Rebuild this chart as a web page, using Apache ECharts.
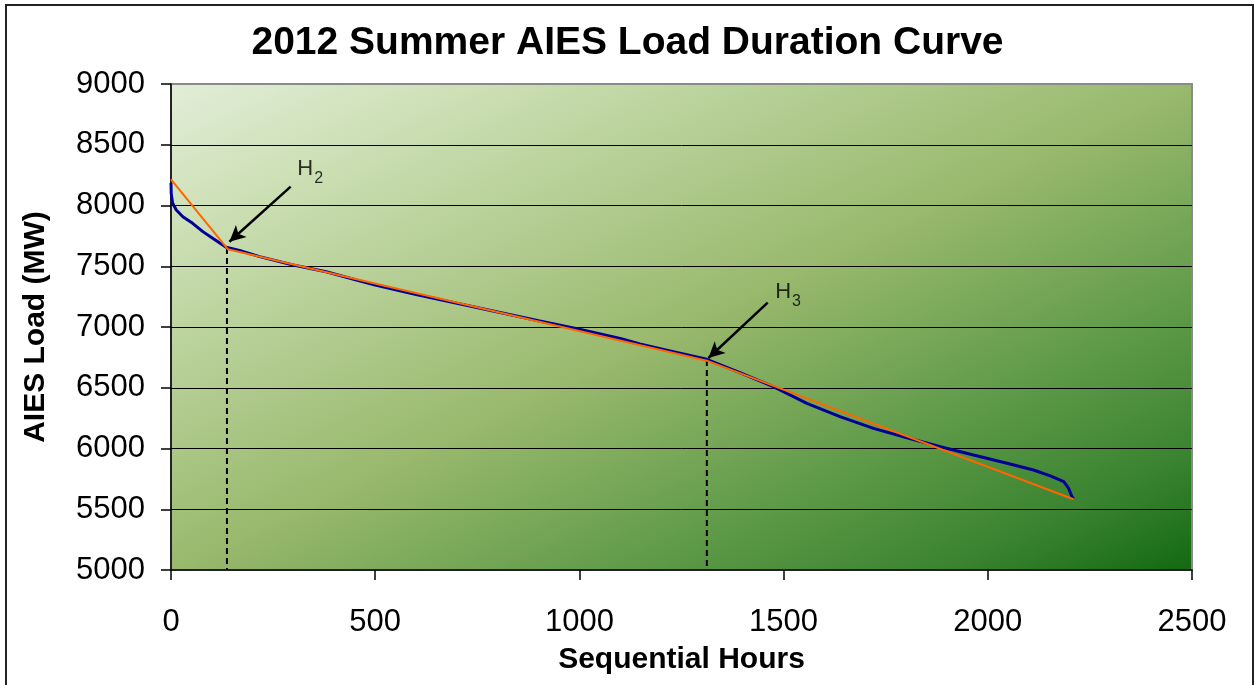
<!DOCTYPE html>
<html>
<head>
<meta charset="utf-8">
<script src="https://cdn.jsdelivr.net/npm/echarts@6/dist/echarts.min.js"></script>
<style>html,body{margin:0;padding:0;background:#fff}#c{width:1255px;height:685px}</style>
</head>
<body>
<div id="c"></div>
<script>
// Load duration curve (blue)
const loadHours = [0, 0.5, 4, 13, 29, 53, 78, 102, 135, 168, 217, 299, 380, 454, 500, 600, 700, 800, 900, 1000, 1100, 1148, 1230, 1312, 1393, 1475, 1557, 1638, 1720, 1802, 1884, 1965, 2047, 2112, 2153, 2186, 2198, 2206, 2210];
const loadMW    = [8185, 8100, 8018, 7963, 7908, 7853, 7785, 7730, 7656, 7630, 7579, 7510, 7455, 7387, 7345, 7268, 7195, 7124, 7052, 6982, 6905, 6860, 6797, 6734, 6624, 6509, 6372, 6262, 6166, 6089, 6015, 5946, 5878, 5823, 5774, 5727, 5672, 5603, 5585];
// Piecewise linear approximation (orange)
const approxHours = [0, 139, 1312, 2210];
const approxMW    = [8216, 7640, 6723, 5582];
// Marker hours H2 and H3
const markerHours = [137, 1312];
const markerMW    = [7650, 6728];
const markerNames = ['2', '3'];
// Annotation arrows: [startHour, startMW, endHour, endMW]
const arrowsData = [[293, 8155, 143, 7702], [1461, 7200, 1316, 6745]];
const labelPos = [[341, 8300], [1511, 7288]];
// Axis ticks
const xTicks = [0, 500, 1000, 1500, 2000, 2500];
const yTicks = [5000, 5500, 6000, 6500, 7000, 7500, 8000, 8500, 9000];

const chart = echarts.init(document.getElementById('c'));
const font = '"Liberation Sans", Arial, sans-serif';

const blue = loadHours.map((h, i) => [h, loadMW[i]]);
const orange = approxHours.map((h, i) => [h, approxMW[i]]);

// grid box (styling)
const G = { left: 171, right: 63, top: 84, bottom: 115 };
const W = 1255 - G.left - G.right, H = 685 - G.top - G.bottom;
// gradient direction perpendicular to the anti-diagonal of the plot box
const dlen = Math.sqrt(W * W + H * H);
const reach = 2 * W * H / dlen;
const gx2 = G.left + H / dlen * reach, gy2 = G.top + W / dlen * reach;

const dashSeries = markerHours.map((h, i) => ({
  type: 'line', data: [[h, markerMW[i]], [h, yTicks[0]]], symbol: 'none', silent: true,
  lineStyle: { color: '#000', width: 2, type: [6, 4] }, z: 3
}));

const option = {
  animation: false,
  backgroundColor: '#fff',
  title: {
    text: '2012 Summer AIES Load Duration Curve', left: 'center', top: 24, padding: 0,
    textStyle: { fontFamily: font, fontSize: 39, fontWeight: 'bold', color: '#000' }
  },
  grid: {
    left: G.left, right: G.right, top: G.top, bottom: G.bottom, show: true,
    borderColor: '#8a8a8a', borderWidth: 2,
    backgroundColor: new echarts.graphic.LinearGradient(G.left, G.top, gx2, gy2, [
      { offset: 0, color: '#e2edd8' },
      { offset: 0.15, color: '#cde0b6' },
      { offset: 0.5, color: '#99b96d' },
      { offset: 0.72, color: '#609b49' },
      { offset: 0.88, color: '#3a8330' },
      { offset: 1, color: '#136912' }
    ], true)
  },
  xAxis: {
    type: 'value', min: xTicks[0], max: xTicks[xTicks.length - 1], interval: 500,
    name: 'Sequential Hours', nameLocation: 'middle', nameGap: 75,
    nameTextStyle: { fontFamily: font, fontSize: 30, fontWeight: 'bold', color: '#000' },
    axisLine: { show: true, lineStyle: { color: '#000', width: 1.5 } },
    axisTick: { show: true, inside: false, length: 10, lineStyle: { color: '#000', width: 1.5 } },
    axisLabel: { margin: 37, fontFamily: font, fontSize: 31, color: '#000', formatter: v => String(v) },
    splitLine: { show: false }
  },
  yAxis: {
    type: 'value', min: yTicks[0], max: yTicks[yTicks.length - 1], interval: 500,
    name: 'AIES Load (MW)', nameLocation: 'middle', nameGap: 120,
    nameTextStyle: { fontFamily: font, fontSize: 30, fontWeight: 'bold', color: '#000' },
    axisLine: { show: true, lineStyle: { color: '#000', width: 1.5 } },
    axisTick: { show: true, inside: false, length: 10, lineStyle: { color: '#000', width: 1.5 } },
    axisLabel: { margin: 26, fontFamily: font, fontSize: 31, color: '#000', formatter: v => String(v) },
    splitLine: { show: true, showMinLine: false, showMaxLine: false, lineStyle: { color: '#000', width: 1 } }
  },
  series: [
    ...dashSeries,
    {
      type: 'line', name: 'Load', data: blue, symbol: 'none', z: 4,
      lineStyle: { color: '#000099', width: 3 }
    },
    {
      type: 'line', name: 'Approx', data: orange, symbol: 'none', z: 5,
      lineStyle: { color: '#ff6600', width: 2 },
      markLine: {
        silent: true, symbol: ['none', 'arrow'], symbolSize: [12, 16],
        label: { show: false },
        lineStyle: { color: '#000', width: 2.5, type: 'solid' },
        data: arrowsData.map(a => [{ coord: [a[0], a[1]] }, { coord: [a[2], a[3]] }])
      }
    },
    {
      type: 'scatter', data: labelPos.map((p, i) => [p[0], p[1], markerNames[i]]),
      symbolSize: 0, silent: true, z: 6,
      label: {
        show: true, position: 'inside',
        formatter: p => '{h|H}{s|' + p.data[2] + '}',
        rich: {
          h: { fontFamily: font, fontSize: 22, color: '#000', lineHeight: 24, verticalAlign: 'middle' },
          s: { fontFamily: font, fontSize: 16, color: '#000', lineHeight: 16, verticalAlign: 'bottom', padding: [0, 0, -6, 1] }
        }
      }
    }
  ],
  graphic: [{
    type: 'rect', shape: { x: 6, y: 5, width: 1247, height: 720 }, silent: true,
    style: { fill: 'none', stroke: '#222', lineWidth: 2 }, z: -1
  }]
};
chart.setOption(option);
</script>
</body>
</html>
